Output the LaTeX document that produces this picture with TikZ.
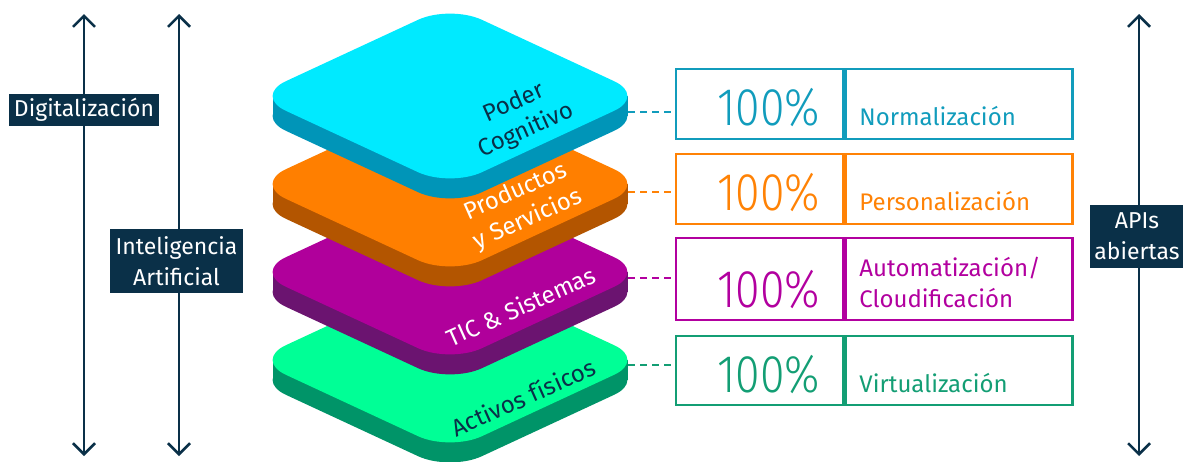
\documentclass[tikz,border=0pt]{standalone}
\usepackage{fontspec}
\setmainfont{Fira Sans}
\IfFontExistsTF{Fira Sans Light}{\newfontfamily\thinfont{Fira Sans Light}}{%
  \IfFontExistsTF{DejaVu Sans ExtraLight}{\newfontfamily\thinfont{DejaVu Sans ExtraLight}}{%
    \newfontfamily\thinfont{Fira Sans}}}
\usetikzlibrary{arrows.meta,positioning}
\definecolor{navy}{HTML}{0A3048}
\definecolor{cyanface}{HTML}{00EAFF}
\definecolor{cyanside}{HTML}{0095B8}
\definecolor{cyanline}{HTML}{119CBC}
\definecolor{orangeface}{HTML}{FF7F00}
\definecolor{orangeside}{HTML}{B35500}
\definecolor{orangeline}{HTML}{FF8205}
\definecolor{purpleface}{HTML}{B0009B}
\definecolor{purpleside}{HTML}{6B1470}
\definecolor{purpleline}{HTML}{B2009F}
\definecolor{greenface}{HTML}{00FF96}
\definecolor{greenside}{HTML}{009468}
\definecolor{greenline}{HTML}{139E74}
\tikzset{
  axis/.style={{Straight Barb[length=11pt,width=22pt]}-{Straight Barb[length=11pt,width=22pt]}, line width=2.5pt, navy},
  tag/.style={fill=navy, text=white, font=\fontsize{23}{31}\selectfont, align=center, inner sep=0pt},
  cell/.style={draw=#1, line width=2.5pt, inner sep=0pt},
  pct/.style={text=#1, font=\thinfont\fontsize{53}{53}\selectfont, anchor=base, inner sep=0pt},
  lab/.style={text=#1, font=\fontsize{24}{31}\selectfont, anchor=base west, align=left, inner sep=0pt},
  link/.style={draw=#1, line width=2.5pt, dash pattern=on 7pt off 5pt},
  layertext/.style={font=\fontsize{24}{30}\selectfont, rotate=24, align=center},
}
\begin{document}
\begin{tikzpicture}[x=1pt, y=-1pt]
\useasboundingbox (0,0) rectangle (1183,461);

% ejes verticales
\coordinate (d0) at (84,14);  \coordinate (d1) at (84,456);
\coordinate (i0) at (179,14); \coordinate (i1) at (179,456);
\coordinate (a0) at (1139,14); \coordinate (a1) at (1139,456);
\draw[axis] (d0) -- (d1);
\draw[axis] (i0) -- (i1);
\draw[axis] (a0) -- (a1);
\node[tag, minimum width=150pt, minimum height=32pt] (dig) at (84,110) {Digitalizaci\'on};
\node[tag, minimum width=133pt, minimum height=64pt] (ia) at (176.5,261) {Inteligencia\\Artificial};
\node[tag, minimum width=94pt, minimum height=63pt] (api) at (1137,236.5) {APIs\\abiertas};

% capas
\foreach \cy/\face/\side in {360/greenface/greenside, 272/purpleface/purpleside,
                             184/orangeface/orangeside, 96/cyanface/cyanside}{
  \fill[\side, rounded corners=35pt] (352,\cy+20-45.5) -- (450,\cy+20-91) -- (646,\cy+20)
       -- (450,\cy+20+91) -- (254,\cy+20) -- cycle;
  \fill[\side] (272.5,\cy) rectangle (627.5,\cy+20);
  \fill[\face, rounded corners=35pt] (352,\cy-45.5) -- (450,\cy-91) -- (646,\cy)
       -- (450,\cy+91) -- (254,\cy) -- cycle;
}
\node[layertext, text=navy] (poder) at (520,117) {Poder\\Cognitivo};
\node[layertext, text=white] (prod) at (522,206) {Productos\\y Servicios};
\node[layertext, text=white] (tic) at (521,306) {TIC \& Sistemas};
\node[layertext, text=navy] (act) at (523,397) {Activos f\'isicos};

% tabla
\node[cell=cyanline, minimum width=167pt, minimum height=70pt] (p1) at (759.5,104) {};
\node[cell=cyanline, minimum width=227pt, minimum height=70pt, right=0pt of p1] (l1) {};
\node[cell=orangeline, minimum width=167pt, minimum height=70pt] (p2) at (759.5,189) {};
\node[cell=orangeline, minimum width=227pt, minimum height=70pt, right=0pt of p2] (l2) {};
\node[cell=purpleline, minimum width=167pt, minimum height=82pt] (p3) at (759.5,279) {};
\node[cell=purpleline, minimum width=227pt, minimum height=82pt, right=0pt of p3] (l3) {};
\node[cell=greenline, minimum width=167pt, minimum height=69pt] (p4) at (759.5,370.5) {};
\node[cell=greenline, minimum width=227pt, minimum height=69pt, right=0pt of p4] (l4) {};

\node[pct=cyanline] (v1) at ([shift={(9pt,15pt)}]p1.south) {\scalebox{0.84}[1]{100\%}};
\node[pct=orangeline] (v2) at ([shift={(9pt,15pt)}]p2.south) {\scalebox{0.84}[1]{100\%}};
\node[pct=purpleline] (v3) at ([shift={(9pt,14pt)}]p3.south) {\scalebox{0.84}[1]{100\%}};
\node[pct=greenline] (v4) at ([shift={(9pt,14pt)}]p4.south) {\scalebox{0.84}[1]{100\%}};

\node[lab=cyanline] (t1) at ([shift={(15pt,15pt)}]l1.south west) {Normalizaci\'on};
\node[lab=orangeline] (t2) at ([shift={(15pt,15pt)}]l2.south west) {Personalizaci\'on};
\node[lab=purpleline] (t3) at ([shift={(15pt,14pt)}]l3.south west) {Automatizaci\'on/\\Cloudificaci\'on};
\node[lab=greenline] (t4) at ([shift={(15pt,14pt)}]l4.south west) {Virtualizaci\'on};

% conectores
\coordinate (c1) at (628,112);
\coordinate (c2) at (628,192);
\coordinate (c3) at (628,278);
\coordinate (c4) at (628,365);
\draw[link=cyanline] (c1) -- (c1 -| p1.west);
\draw[link=orangeline] (c2) -- (c2 -| p2.west);
\draw[link=purpleline] (c3) -- (c3 -| p3.west);
\draw[link=greenline] (c4) -- (c4 -| p4.west);
\end{tikzpicture}
\end{document}
